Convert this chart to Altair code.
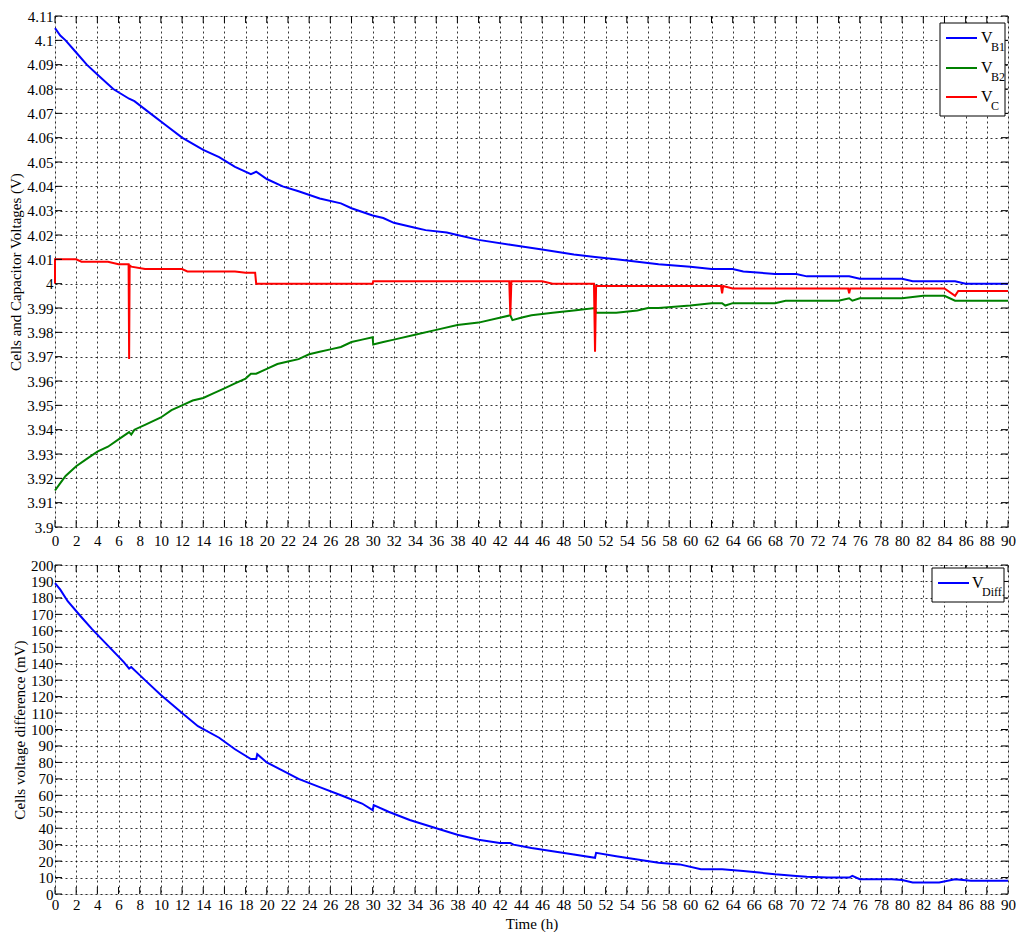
import altair as alt
import pandas as pd

# ---------------- data ----------------
t_b1 = [0, 0.5, 1, 2, 3, 4, 5.5, 7, 7.5, 9, 10.5, 12, 14, 15.5, 17, 18.5, 19, 20, 21.5, 23, 25, 27, 28,
        30, 31, 32, 34, 35, 37, 38, 40, 43, 46, 49, 51, 53, 55, 57, 60, 62, 64, 65, 68, 70, 71, 72, 75,
        76, 77, 80, 81, 82, 85, 86, 90]
v_b1 = [4.105, 4.102, 4.1, 4.095, 4.09, 4.086, 4.08, 4.076, 4.075, 4.07, 4.065, 4.06, 4.055, 4.052, 4.048,
        4.045, 4.046, 4.043, 4.04, 4.038, 4.035, 4.033, 4.031, 4.028, 4.027, 4.025, 4.023, 4.022, 4.021,
        4.02, 4.018, 4.016, 4.014, 4.012, 4.011, 4.01, 4.009, 4.008, 4.007, 4.006, 4.006, 4.005, 4.004,
        4.004, 4.003, 4.003, 4.003, 4.002, 4.002, 4.002, 4.001, 4.001, 4.001, 4.0, 4.0]

t_b2 = [0, 0.5, 1, 2, 3, 4, 5, 6, 7, 7.2, 7.5, 8.5, 10, 11, 12, 13, 14, 15, 16, 17, 18, 18.5, 19, 20, 21,
        22, 23, 24, 25, 26, 27, 28, 29, 30, 30.05, 31, 32, 34, 36, 38, 40, 42, 43, 43.2, 44, 45, 47, 49,
        51, 51.1, 53, 55, 56, 57, 60, 62, 63, 63.3, 64, 66, 68, 69, 70, 74, 75, 75.3, 76, 78, 80, 82,
        84, 85, 86, 90]
v_b2 = [3.915, 3.918, 3.921, 3.925, 3.928, 3.931, 3.933, 3.936, 3.939, 3.938, 3.94, 3.942, 3.945, 3.948,
        3.95, 3.952, 3.953, 3.955, 3.957, 3.959, 3.961, 3.963, 3.963, 3.965, 3.967, 3.968, 3.969, 3.971,
        3.972, 3.973, 3.974, 3.976, 3.977, 3.978, 3.975, 3.976, 3.977, 3.979, 3.981, 3.983, 3.984, 3.986,
        3.987, 3.985, 3.986, 3.987, 3.988, 3.989, 3.99, 3.988, 3.988, 3.989, 3.99, 3.99, 3.991, 3.992,
        3.992, 3.991, 3.992, 3.992, 3.992, 3.993, 3.993, 3.993, 3.994, 3.993, 3.994, 3.994, 3.994, 3.995,
        3.995, 3.993, 3.993, 3.993]

t_c = [0, 0, 2, 2.5, 5, 6, 6.95, 7, 7.05, 7.2, 8.5, 12, 12.5, 17, 18, 18.9, 19, 30, 30.05, 42.9, 43, 43.1,
       46, 47, 50.9, 51, 51.1, 62.9, 63, 63.1, 64, 74.9, 75, 75.1, 84, 85, 85.3, 90]
v_c = [4.0, 4.01, 4.01, 4.009, 4.009, 4.008, 4.008, 3.969, 4.0075, 4.007, 4.006, 4.006, 4.005, 4.005,
       4.0045, 4.0045, 4.0, 4.0, 4.001, 4.001, 3.987, 4.001, 4.001, 4.0, 4.0, 3.972, 3.999, 3.999, 3.996,
       3.999, 3.998, 3.998, 3.996, 3.998, 3.998, 3.995, 3.997, 3.997]

t_diff = [0, 0.5, 1.2, 2.4, 3.5, 5, 6.5, 7, 7.2, 8.5, 10, 12, 13.5, 15.5, 17, 18.5, 19, 19.1, 20, 21.5, 23,
          25, 27, 29, 30, 30.1, 31.5, 33.5, 36, 38, 40, 42, 43, 43.3, 45, 47, 49, 51, 51.1, 53, 55, 57,
          59, 61, 63, 65, 66.5, 68, 70, 71, 73, 75, 75.3, 76, 79, 80, 81, 83.5, 85, 86.5, 90]
v_diff = [189, 185, 178, 169, 161, 151, 141, 137, 138, 130, 121, 110, 102, 95, 88, 82, 82, 85, 80, 75,
          70, 65, 60, 55, 51, 54, 50, 45, 40, 36, 33, 31, 31, 30, 28, 26, 24, 22, 25, 23, 21, 19, 18, 15,
          15, 14, 13, 12, 11, 10.5, 10, 10, 11, 9, 9, 8.5, 7, 7, 9, 8, 8]

x_ticks = list(range(0, 91, 2))
y_top_ticks = [round(3.9 + 0.01 * i, 2) for i in range(22)]
y_bot_ticks = list(range(0, 201, 10))

series_names = ["VB1", "VB2", "VC"]
series_colors = ["#0000ff", "#008000", "#ff0000"]

# ---------------- frames ----------------
def frame(ts, vs, name):
    return pd.DataFrame({"t": ts, "v": vs, "s": name, "o": range(len(ts))})

top_df = pd.concat([frame(t_b1, v_b1, "VB1"), frame(t_b2, v_b2, "VB2"), frame(t_c, v_c, "VC")])
bot_df = frame(t_diff, v_diff, "VDiff")

FONT = "Liberation Serif"
W = 953
H_TOP = 511
H_BOT = 329

xs = alt.Scale(domain=[0, 90], nice=False, zero=False)
ys_top = alt.Scale(domain=[3.9, 4.11], nice=False, zero=False)
ys_bot = alt.Scale(domain=[0, 200], nice=False, zero=False)


def x_axis(title=None, lp=5):
    kw = dict(values=x_ticks, grid=True, gridDash=[2, 3], gridColor="#000000", gridOpacity=1,
              gridWidth=0.8, ticks=False, domain=False, labelFont=FONT, labelFontSize=15,
              labelColor="#000", labelPadding=lp, labelFlush=False, labelOverlap=False,
              labelBound=False)
    if title:
        kw.update(title=title, titleFont=FONT, titleFontSize=15, titleFontWeight="normal",
                  titleColor="#000", titlePadding=4)
    else:
        kw.update(title=None)
    return alt.Axis(**kw)


def y_axis(values, title, fmt):
    return alt.Axis(values=values, grid=True, gridDash=[2, 3], gridColor="#000000", gridOpacity=1,
                    gridWidth=0.8, ticks=False, domain=False, labelFont=FONT, labelFontSize=15,
                    labelColor="#000", labelPadding=2, format=fmt, labelOverlap=False,
                    labelBound=False, labelFlush=False, title=title,
                    titleFont=FONT, titleFontSize=15, titleFontWeight="normal", titleColor="#000",
                    titlePadding=3)


ax_top_x = x_axis(lp=6)
ax_top_y = y_axis(y_top_ticks, "Cells and Capacitor Voltages (V)", ".3~f")
ax_bot_x = x_axis("Time (h)", lp=3)
ax_bot_y = y_axis(y_bot_ticks, "Cells voltage difference (mV)", "d")

# inner tick marks (MATLAB style)
xt_df = pd.DataFrame({"t": x_ticks})
ytop_df = pd.DataFrame({"v": y_top_ticks})
ybot_df = pd.DataFrame({"v": y_bot_ticks})


def inner_ticks(ys, ydf, h, ax_x, ax_y):
    a = alt.Chart(xt_df).mark_rule(color="#000", strokeWidth=1).encode(
        x=alt.X("t:Q", scale=xs, axis=ax_x), y=alt.value(0), y2=alt.value(7))
    b = alt.Chart(xt_df).mark_rule(color="#000", strokeWidth=1).encode(
        x=alt.X("t:Q", scale=xs, axis=ax_x), y=alt.value(h), y2=alt.value(h - 7))
    c = alt.Chart(ydf).mark_rule(color="#000", strokeWidth=1).encode(
        y=alt.Y("v:Q", scale=ys, axis=ax_y), x=alt.value(0), x2=alt.value(7))
    d = alt.Chart(ydf).mark_rule(color="#000", strokeWidth=1).encode(
        y=alt.Y("v:Q", scale=ys, axis=ax_y), x=alt.value(W), x2=alt.value(W - 7))
    return [a, b, c, d]


top_lines = alt.Chart(top_df).mark_line(strokeWidth=2, interpolate="linear").encode(
    x=alt.X("t:Q", scale=xs, axis=ax_top_x),
    y=alt.Y("v:Q", scale=ys_top, axis=ax_top_y),
    color=alt.Color("s:N", scale=alt.Scale(domain=series_names, range=series_colors), legend=None),
    order="o:Q",
)

# manual legend (top)
leg_box = alt.Chart(pd.DataFrame({"a": [0]})).mark_rect(
    fill="#fff", stroke="#000", strokeWidth=1).encode(
    x=alt.value(885), x2=alt.value(950), y=alt.value(7), y2=alt.value(100))
leg_rows = pd.DataFrame({"s": series_names, "main": ["V", "V", "V"], "sub": ["B1", "B2", "C"],
                         "yy": [22, 52, 81]})
leg_lines = alt.Chart(leg_rows).mark_rule(strokeWidth=2).encode(
    x=alt.value(891), x2=alt.value(922), y=alt.Y("yy:Q", scale=None),
    color=alt.Color("s:N", scale=alt.Scale(domain=series_names, range=series_colors), legend=None))
leg_v = alt.Chart(leg_rows).mark_text(font=FONT, fontSize=16, align="left", baseline="middle",
                                      color="#000").encode(
    x=alt.value(926), y=alt.Y("yy:Q", scale=None), text="main:N")
leg_sub = alt.Chart(leg_rows).mark_text(font=FONT, fontSize=12, align="left", baseline="middle",
                                        color="#000", dy=9).encode(
    x=alt.value(936), y=alt.Y("yy:Q", scale=None), text="sub:N")

top = alt.layer(top_lines, *inner_ticks(ys_top, ytop_df, H_TOP, ax_top_x, ax_top_y), leg_box,
                leg_lines, leg_v, leg_sub).properties(width=W, height=H_TOP)

bot_line = alt.Chart(bot_df).mark_line(strokeWidth=2, color="#0000ff").encode(
    x=alt.X("t:Q", scale=xs, axis=ax_bot_x),
    y=alt.Y("v:Q", scale=ys_bot, axis=ax_bot_y),
    order="o:Q",
)
bleg_box = alt.Chart(pd.DataFrame({"a": [0]})).mark_rect(
    fill="#fff", stroke="#000", strokeWidth=1).encode(
    x=alt.value(877), x2=alt.value(949), y=alt.value(3), y2=alt.value(37))
bleg_rows = pd.DataFrame({"main": ["V"], "sub": ["Diff."], "yy": [18]})
bleg_line = alt.Chart(bleg_rows).mark_rule(strokeWidth=2, color="#0000ff").encode(
    x=alt.value(883), x2=alt.value(914), y=alt.Y("yy:Q", scale=None))
bleg_v = alt.Chart(bleg_rows).mark_text(font=FONT, fontSize=16, align="left", baseline="middle",
                                        color="#000").encode(
    x=alt.value(917), y=alt.Y("yy:Q", scale=None), text="main:N")
bleg_sub = alt.Chart(bleg_rows).mark_text(font=FONT, fontSize=12, align="left", baseline="middle",
                                          color="#000", dy=9).encode(
    x=alt.value(927), y=alt.Y("yy:Q", scale=None), text="sub:N")

bot = alt.layer(bot_line, *inner_ticks(ys_bot, ybot_df, H_BOT, ax_bot_x, ax_bot_y), bleg_box,
                bleg_line, bleg_v, bleg_sub).properties(width=W, height=H_BOT)

chart = alt.vconcat(top, bot, spacing=8).properties(
    padding={"left": 0, "top": 0, "right": 0, "bottom": 0}
).configure_view(stroke="#000", strokeWidth=1.2).configure(background="#fff").configure_axis(
    labelOverlap=False, labelFont=FONT, labelFontSize=15)

chart.save("out.html", embed_options={"renderer": "svg", "actions": False})
